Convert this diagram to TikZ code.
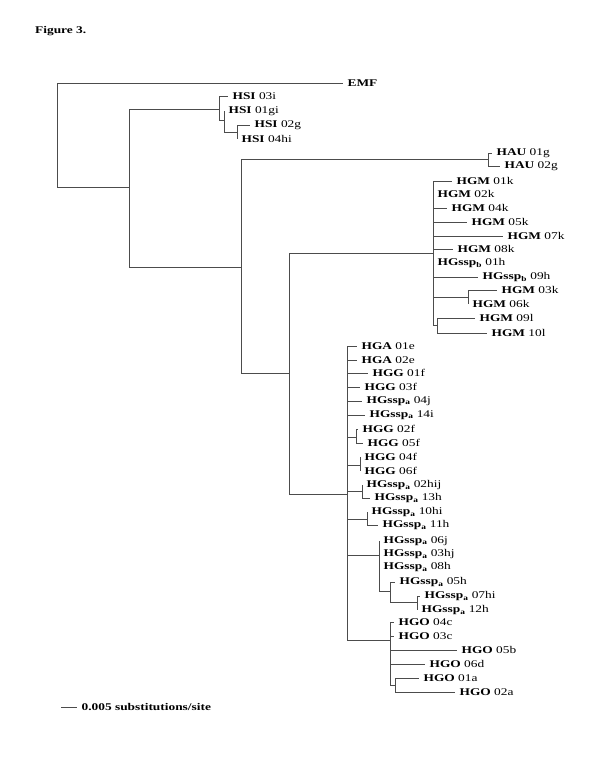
\documentclass[tikz,border=0pt]{standalone}
\usepackage{fontspec}
\setmainfont{Liberation Serif}[FakeStretch=1.3]
\usepackage{tikz}
\newcommand{\hgsspa}{HGssp\textsubscript{a}}
\newcommand{\hgsspb}{HGssp\textsubscript{b}}
\tikzset{branch/.style={draw=black!70,line width=.8pt},leaf/.style={anchor=west,inner xsep=4.5pt,inner ysep=0pt,font=\fontsize{10.5}{12}\selectfont},title/.style={anchor=west,inner sep=0pt,font=\fontsize{10.5}{12}\selectfont\bfseries}}

\begin{document}
\begin{tikzpicture}[x=1.02pt,y=-1.02pt]
 \useasboundingbox (0,0) rectangle (600,776);
 \node[title] (fig) at (35,31) {Figure 3.};
 % inner nodes of the tree
 \foreach \n/\x/\y in {root/57/135,nA/129/187,nHSI/219/109,nHSI2/224/120,nHSI3/237/132,nB/241/267,nHAU/488/159,nC/289/373,nHGM/433/253,nHGM2/468/297,nHGM3/437/325,nD/347/494,nD1/356/437,nD2/360/465,nD3/362/491,nD4/367/519,nD5/379/555,nD6/390/591,nD7/417/602,nHGO/390/640,nHGO2/395/685}
   \coordinate (\n) at (\x,\y);
 \foreach \p/\c in {nA/nHSI,nHSI/nHSI2,nHSI2/nHSI3,nA/nB,nB/nHAU,nB/nC,nC/nHGM,nHGM/nHGM2,nHGM/nHGM3,nC/nD,nD/nD1,nD/nD2,nD/nD3,nD/nD4,nD/nD5,nD5/nD6,nD6/nD7,nD/nHGO,nHGO/nHGO2}
   \draw[branch] (\p) |- (\c);
 % outgroup
 \coordinate (emf) at (343,83);
 \node[leaf] (lemf) at (emf) {\textbf{EMF}};
 \draw[branch] (root) |- (emf);
 \draw[branch] (root) |- (nA);
 % leaves: parent/tip x/tip y/name/code
 \foreach \p/\x/\y/\nm/\id [count=\k] in {
   nHSI/228/96/HSI/03i, nHSI2/224/111/HSI/01gi, nHSI3/250/125/HSI/02g, nHSI3/237/139/HSI/04hi,
   nHAU/492/153/HAU/01g, nHAU/500/166/HAU/02g,
   nHGM/452/181/HGM/01k, nHGM/433/194/HGM/02k, nHGM/447/208/HGM/04k, nHGM/467/222/HGM/05k,
   nHGM/503/236/HGM/07k, nHGM/453/249/HGM/08k, nHGM/433/263/\hgsspb/01h, nHGM/478/277/\hgsspb/09h,
   nHGM2/497/290/HGM/03k, nHGM2/468/304/HGM/06k, nHGM3/475/318/HGM/09l, nHGM3/487/333/HGM/10l,
   nD/357/346/HGA/01e, nD/357/360/HGA/02e, nD/368/373/HGG/01f, nD/360/387/HGG/03f,
   nD/362/401/\hgsspa/04j, nD/365/415/\hgsspa/14i,
   nD1/358/429/HGG/02f, nD1/363/443/HGG/05f, nD2/360/457/HGG/04f, nD2/360/471/HGG/06f,
   nD3/362/485/\hgsspa/02hij, nD3/370/498/\hgsspa/13h, nD4/367/512/\hgsspa/10hi, nD4/378/525/\hgsspa/11h,
   nD5/379/541/\hgsspa/06j, nD5/379/554/\hgsspa/03hj, nD5/379/567/\hgsspa/08h,
   nD6/395/582/\hgsspa/05h, nD7/420/596/\hgsspa/07hi, nD7/417/610/\hgsspa/12h,
   nHGO/394/622/HGO/04c, nHGO/394/636/HGO/03c, nHGO/457/650/HGO/05b, nHGO/425/664/HGO/06d,
   nHGO2/419/678/HGO/01a, nHGO2/455/692/HGO/02a} {
   \coordinate (t\k) at (\x,\y);
   \node[leaf] (l\k) at (t\k) {\textbf{\nm} \id};
   \draw[branch] (\p) |- (t\k);
 }
 % scale bar
 \coordinate (sbL) at (61,707);
 \coordinate (sbR) at (77,707);
 \draw[branch] (sbL) -- (sbR);
 \node[leaf,font=\fontsize{10.5}{12}\selectfont\bfseries] (sbtext) at (sbR) {0.005 substitutions/site};
\end{tikzpicture}
\end{document}
